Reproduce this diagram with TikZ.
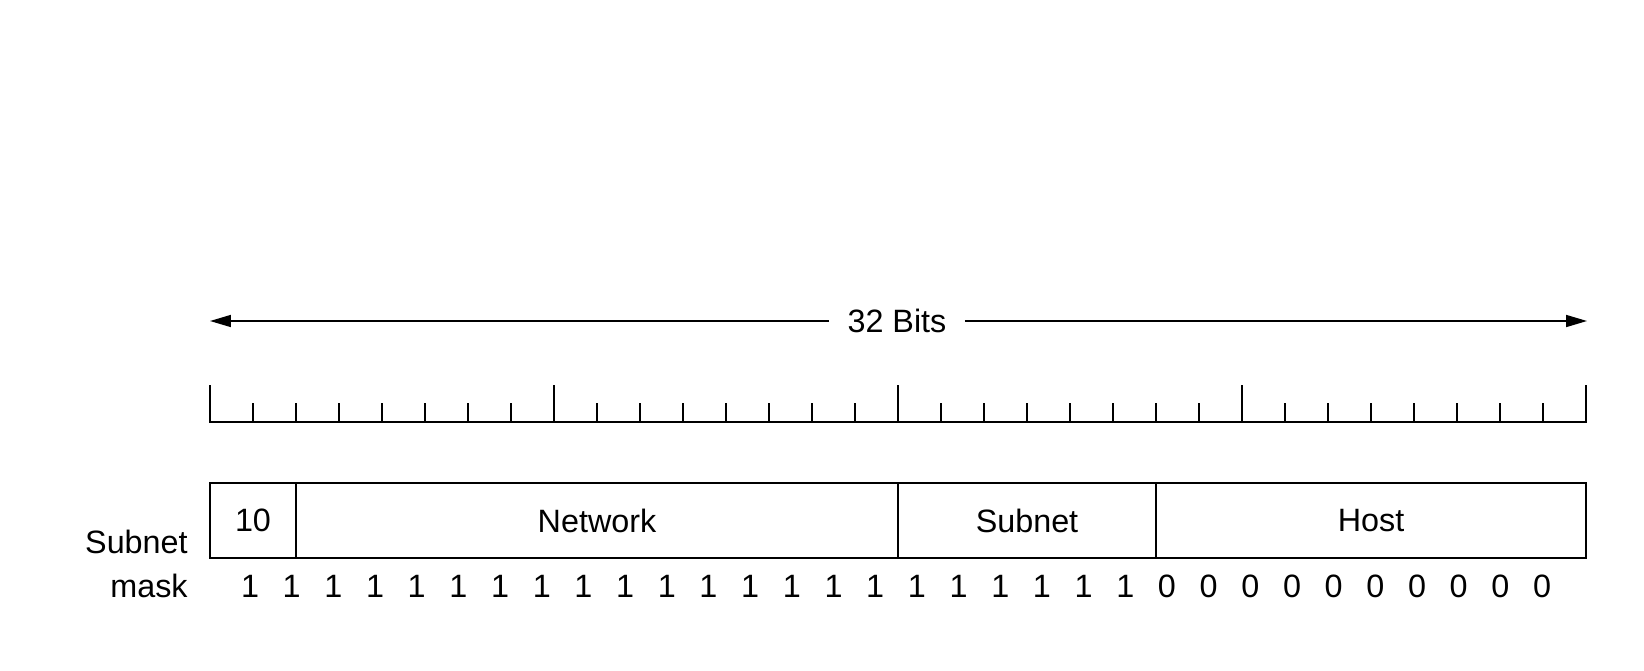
\documentclass[tikz,border=0pt]{standalone}
\usepackage{fontspec}
\setmainfont{Liberation Sans}
\usetikzlibrary{arrows.meta}

\tikzset{
  ruler/.style={line width=0.95pt},
  span/.style={line width=0.95pt, -{Triangle[length=0.42cm,width=0.24cm]}},
  field/.style={draw, line width=0.75pt, rectangle, minimum height=1.5cm, inner sep=0pt},
}

\begin{document}
\begin{tikzpicture}[x=0.02cm, y=-0.02cm, font=\fontsize{18.4}{22}\selectfont]
\useasboundingbox (0,0) rectangle (1644,670);
% 32 bits arrow
\node[inner xsep=0.36cm] (bits) at (897,321) {32 Bits};
\coordinate (left) at (210,321);
\coordinate (right) at (1587,321);
\path[draw,span] (bits) -- (left);
\path[draw,span] (bits) -- (right);
% ruler
\draw[ruler] (210,385) -- (210,422) -- (1586,422) -- (1586,385);
\foreach \i in {1,...,31} {
  \pgfmathsetmacro\tick{mod(\i,8)==0 ? 385 : 403}
  \draw[ruler] ({210+43*\i},\tick) -- ({210+43*\i},422);
}
% address fields
\node[field, minimum width=1.72cm] (pfx) at (253,520.5) {10};
\node[field, minimum width=12.04cm] (net) at (597,520.5) {Network};
\node[field, minimum width=5.16cm] (sub) at (1027,520.5) {Subnet};
\node[field, minimum width=8.6cm] (host) at (1371,520.5) {Host};
% mask
\node[anchor=base east, inner sep=0pt] (lsub) at (188,553) {Subnet};
\node[anchor=base east, inner sep=0pt] (lmask) at (188,597) {mask};
\foreach \i in {0,...,31} {
  \pgfmathtruncatemacro\d{\i<22 ? 1 : 0}
  \node[anchor=base, inner sep=0pt] (m\i) at ({250+41.68*\i},597) {\d};
}
\end{tikzpicture}
\end{document}
